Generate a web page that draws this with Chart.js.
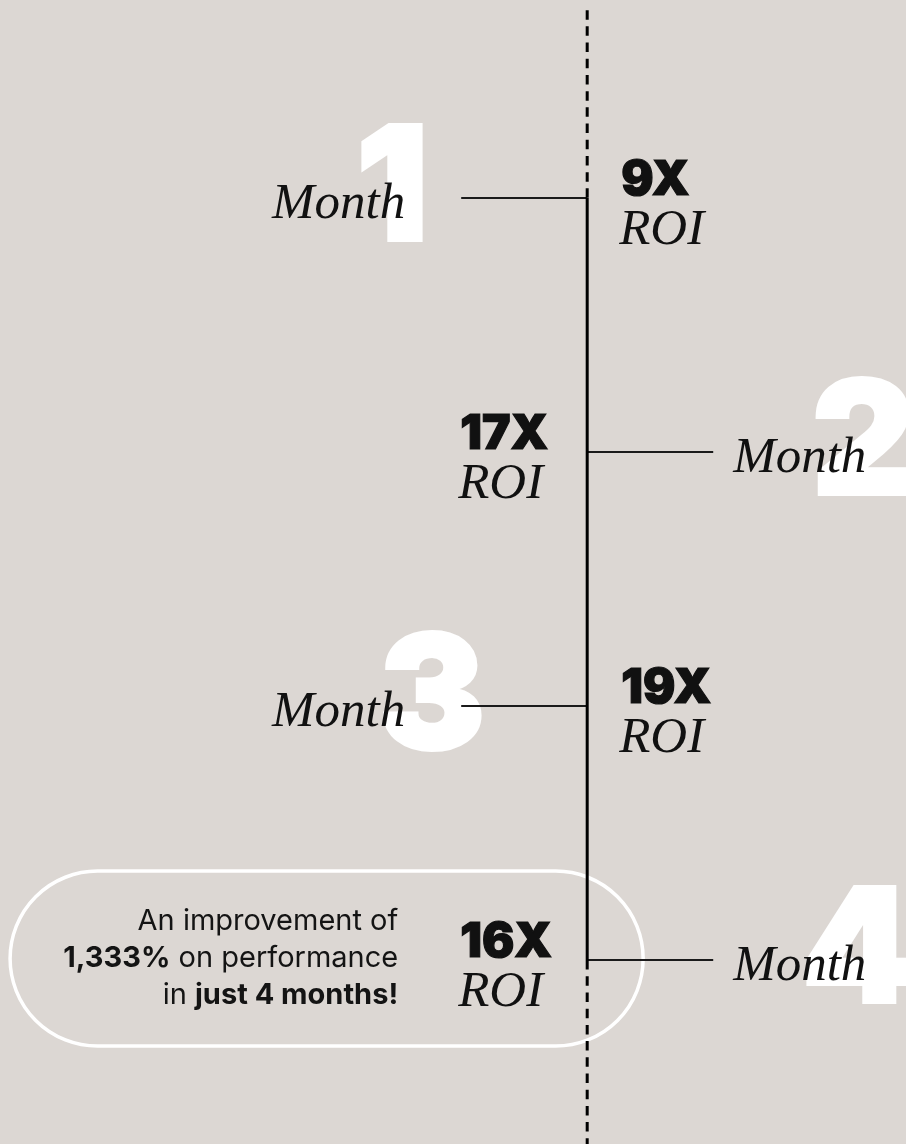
<!DOCTYPE html>
<html>
<head>
<meta charset="utf-8">
<script src="https://cdn.jsdelivr.net/npm/chart.js@4/dist/chart.umd.min.js"></script>
<style>
  html, body { margin: 0; padding: 0; background: #dcd7d3; }
  #roiChart { display: block; }
</style>
</head>
<body>
<canvas id="roiChart" width="906" height="1144"></canvas>
<script>
// timeline data, top to bottom
var months = [1, 2, 3, 4];
var monthDigits = ['1', '2', '3', '4'];
var roiValues = [9, 17, 19, 16];
var sides = ['left', 'right', 'left', 'right'];   // side the "Month" label sits on
var monthWord = 'Month';
var roiWord = 'ROI';
var calloutLines = [
	[{ t: 'An improvement of', b: false }],
	[{ t: '1,333%', b: true }, { t: ' on performance', b: false }],
	[{ t: 'in ', b: false }, { t: 'just 4 months!', b: true }]
];

// axis extents (month units on y, connector lengths on x)
var yMin = 0.22, yMax = 4.724, timelineStart = 0.26;
var xMin = -4.66, xMax = 2.53;

var serif = '"Liberation Serif", "DejaVu Serif", serif';
var sans = 'Inter, "Noto Sans", sans-serif';
var digitNudge = [-10, 0, 30, -6];   // optical shift of the big digits

function monthRight(ctx, xs, i) {
	var cx = xs.getPixelForValue(0);
	ctx.font = 'italic 51px ' + serif;
	if (sides[i] === 'left') return cx - 182;
	return xs.getPixelForValue(1) + 20 + ctx.measureText(monthWord).width;
}

var timelineDeco = {
	id: 'timelineDeco',
	beforeDatasetsDraw: function(chart) {
		var ctx = chart.ctx, xs = chart.scales.x, ys = chart.scales.y;
		ctx.save();

		// big white month digits behind everything
		months.forEach(function(m, i) {
			var y = ys.getPixelForValue(m);
			var r = monthRight(ctx, xs, i);
			ctx.font = '900 158px ' + sans;
			ctx.fillStyle = '#ffffff';
			ctx.strokeStyle = '#ffffff';
			ctx.lineWidth = 4;
			ctx.lineJoin = 'miter';
			ctx.textAlign = 'center';
			ctx.textBaseline = 'alphabetic';
			ctx.fillText(monthDigits[i], r - 3 + digitNudge[i], y + 42);
			ctx.strokeText(monthDigits[i], r - 3 + digitNudge[i], y + 42);
		});

		// callout pill round the last month
		var y4 = ys.getPixelForValue(months[months.length - 1]);
		var left = xs.getPixelForValue(-4.58), right = xs.getPixelForValue(0.444);
		var top = y4 - 89, bottom = y4 + 86, rad = (bottom - top) / 2;
		ctx.beginPath();
		ctx.moveTo(left + rad, top);
		ctx.lineTo(right - rad, top);
		ctx.arc(right - rad, top + rad, rad, -Math.PI / 2, Math.PI / 2);
		ctx.lineTo(left + rad, bottom);
		ctx.arc(left + rad, top + rad, rad, Math.PI / 2, Math.PI * 1.5);
		ctx.closePath();
		ctx.lineWidth = 3.5;
		ctx.strokeStyle = '#ffffff';
		ctx.stroke();
		ctx.restore();
	},
	afterDatasetsDraw: function(chart) {
		var ctx = chart.ctx, xs = chart.scales.x, ys = chart.scales.y;
		var cx = xs.getPixelForValue(0);
		ctx.save();
		ctx.textBaseline = 'alphabetic';
		ctx.fillStyle = '#111111';
		ctx.strokeStyle = '#111111';
		ctx.lineJoin = 'miter';

		months.forEach(function(m, i) {
			var y = ys.getPixelForValue(m);
			// "Month" label
			var r = monthRight(ctx, xs, i);
			ctx.font = 'italic 51px ' + serif;
			ctx.textAlign = 'right';
			ctx.fillText(monthWord, r, y + 20);

			// ROI block on the other side
			var bx = sides[i] === 'left' ? cx + 34 : xs.getPixelForValue(-1) - 1;
			ctx.textAlign = 'left';
			ctx.font = '900 48px ' + sans;
			ctx.lineWidth = 1.2;
			ctx.fillText(roiValues[i] + 'X', bx, y - 3);
			ctx.strokeText(roiValues[i] + 'X', bx, y - 3);
			ctx.font = 'italic 51px ' + serif;
			ctx.fillText(roiWord, bx - 2, y + 46);
		});

		// callout text, right aligned, mixed weights
		var y4 = ys.getPixelForValue(months[months.length - 1]);
		var rx = cx - 189;
		ctx.fillStyle = '#141414';
		calloutLines.forEach(function(line, li) {
			var yy = y4 - 30 + li * 37;
			var x = rx;
			for (var k = line.length - 1; k >= 0; k--) {
				ctx.font = (line[k].b ? '700 ' : '400 ') + '29px ' + sans;
				var w = ctx.measureText(line[k].t).width;
				x -= w;
				ctx.textAlign = 'left';
				ctx.fillText(line[k].t, x, yy);
			}
		});
		ctx.restore();
	}
};

var dash = [9.5, 6.7];
var first = months[0], last = months[months.length - 1];
var datasets = [
	{ label: 'timeline top', data: [{ x: 0, y: timelineStart }, { x: 0, y: first }], borderDash: dash },
	{ label: 'timeline', data: [{ x: 0, y: first }, { x: 0, y: last }], borderDash: [] },
	{ label: 'timeline bottom', data: [{ x: 0, y: last }, { x: 0, y: yMax }], borderDash: dash }
].map(function(d) {
	d.borderColor = '#000000';
	d.borderWidth = 3;
	d.pointRadius = 0;
	d.borderCapStyle = 'butt';
	return d;
});

months.forEach(function(m, i) {
	var end = sides[i] === 'left' ? -1 : 1;
	datasets.push({
		label: 'month ' + monthDigits[i],
		data: [{ x: 0, y: m }, { x: end, y: m }],
		borderColor: '#1a1a1a',
		borderWidth: 2,
		pointRadius: 0
	});
});

var ctx = document.getElementById('roiChart');
var roiChart = new Chart(ctx, {
	type: 'line',
	data: { datasets: datasets },
	options: {
		responsive: false,
		animation: false,
		layout: { padding: 0 },
		plugins: { legend: { display: false }, tooltip: { enabled: false } },
		scales: {
			x: { type: 'linear', min: xMin, max: xMax, display: false },
			y: { type: 'linear', min: yMin, max: yMax, reverse: true, display: false }
		}
	},
	plugins: [timelineDeco]
});
</script>
</body>
</html>
